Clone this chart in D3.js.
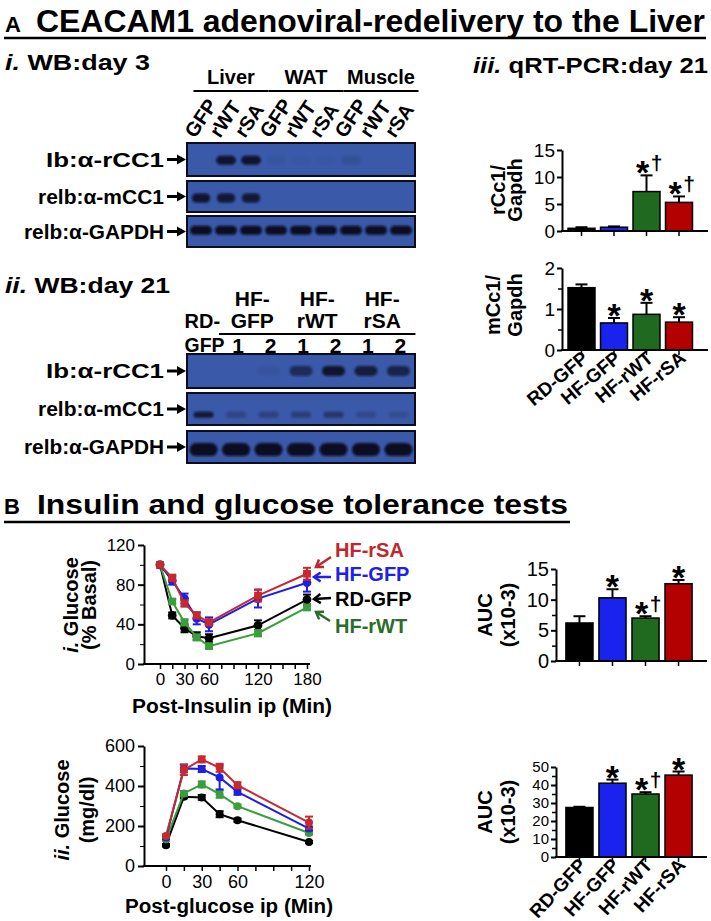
<!DOCTYPE html>
<html><head><meta charset="utf-8">
<script src="https://cdn.jsdelivr.net/npm/d3@7"></script>
<style>body{margin:0;background:#fff}svg{display:block}</style>
</head><body><svg id="c" width="711" height="921"></svg>
<script>
// ---------------- DATA ----------------
const groups = ["RD-GFP","HF-GFP","HF-rWT","HF-rSA"];
const rcc1Mean = [0.5, 0.7, 7.3, 5.3];
const rcc1Err  = [0.2, 0.15, 3.0, 1.1];
const rcc1Sig  = ["", "", "*†", "*†"];
const mcc1Mean = [1.52, 0.66, 0.87, 0.68];
const mcc1Err  = [0.08, 0.12, 0.28, 0.12];
const mcc1Sig  = ["", "*", "*", "*"];
const ittAucMean = [6.2, 10.3, 7.0, 12.6];
const ittAucErr  = [1.1, 1.4, 0.3, 0.6];
const ittAucSig  = ["", "*", "*†", "*"];
const gttAucMean = [27.5, 41, 35, 45.5];
const gttAucErr  = [0.4, 2, 1, 2];
const gttAucSig  = ["", "*", "*†", "*"];

const ittTimes = [0, 15, 30, 45, 60, 120, 180];
const ittRD    = [100, 49, 36, 28, 26, 39, 65];
const ittRDErr = [0, 3, 4, 4, 4, 5, 5];
const ittGFP   = [100, 84, 66, 46, 40, 66, 82];
const ittGFPErr= [0, 4, 5, 6, 7, 9, 9];
const ittRWT   = [100, 63, 42, 27, 18, 31, 57];
const ittRWTErr= [0, 2, 3, 2, 2, 3, 2];
const ittRSA   = [100, 87, 61, 49, 42, 69, 91];
const ittRSAErr= [0, 3, 3, 3, 3, 6, 6];

const gttTimes = [0, 15, 30, 45, 60, 120];
const gttRD    = [104, 346, 343, 259, 229, 120];
const gttRDErr = [6, 8, 12, 15, 8, 5];
const gttGFP   = [142, 488, 485, 443, 371, 187];
const gttGFPErr= [8, 20, 15, 60, 15, 10];
const gttRWT   = [134, 363, 408, 359, 299, 165];
const gttRWTErr= [8, 12, 15, 18, 8, 8];
const gttRSA   = [150, 480, 533, 491, 404, 217];
const gttRSAErr= [8, 25, 15, 20, 15, 30];

const blotRows   = ["Ib:α-rCC1", "relb:α-mCC1", "relb:α-GAPDH"];
const day3Lanes  = ["GFP","rWT","rSA","GFP","rWT","rSA","GFP","rWT","rSA"];
const day3Tissues= ["Liver","WAT","Muscle"];
const day3rCC1   = [0, 0.9, 0.9, 0.05, 0.03, 0.03, 0.1, 0, 0];
const day3mCC1   = [0.9, 0.85, 0.85, 0, 0, 0, 0, 0, 0];
const day3GAPDH  = [1, 1, 1, 1, 1, 1, 1, 1, 1];
const day21Groups= [{n:"RD-GFP",lanes:[0]},{n:"HF-GFP",lanes:[1,2]},{n:"HF-rWT",lanes:[3,4]},{n:"HF-rSA",lanes:[5,6]}];
const day21Lanes = ["", "1", "2", "1", "2", "1", "2"];
const day21rCC1  = [0, 0, 0.05, 0.6, 0.9, 0.8, 0.7];
const day21mCC1  = [0.85, 0.25, 0.3, 0.35, 0.45, 0.2, 0.15];
const day21GAPDH = [1, 1, 1, 1, 1, 1, 1];

// ---------------- STYLE ----------------
const F = "'Liberation Sans', Arial, Helvetica, sans-serif";
const barColors  = ["#000000", "#1a22ee", "#1f6a1f", "#b30000"];
const lineColors = {rd:"#000000", gfp:"#1e1ee6", rwt:"#3a9e3a", rsa:"#c62a2e"};
const svg = d3.select("#c");
svg.append("rect").attr("width",711).attr("height",921).attr("fill","#fff");
const defs = svg.append("defs");
defs.append("filter").attr("id","blur").attr("x","-30%").attr("y","-60%").attr("width","160%").attr("height","220%")
  .append("feGaussianBlur").attr("stdDeviation",1.1);

function txt(g, x, y, s, o = {}) {
  const t = g.append("text").attr("x", x).attr("y", y)
    .attr("font-family", F).attr("font-size", o.size || 18)
    .attr("font-weight", o.weight || "bold")
    .attr("text-anchor", o.anchor || "start")
    .attr("fill", o.fill || "#000");
  if (o.width) t.attr("textLength", o.width).attr("lengthAdjust", "spacingAndGlyphs");
  if (o.rotate != null) t.attr("transform", `rotate(${o.rotate},${x},${y})`);
  if (o.parts) o.parts.forEach(p => t.append("tspan").attr("font-style", p.i ? "italic" : "normal").text(p.t));
  else t.text(s);
  return t;
}
function hline(g, x1, x2, y, w = 2, c = "#000") {
  g.append("line").attr("x1", x1).attr("x2", x2).attr("y1", y).attr("y2", y).attr("stroke", c).attr("stroke-width", w);
}

// ---------------- TITLES ----------------
txt(svg, 5, 32, "A", {size: 22});
txt(svg, 36, 32, "CEACAM1 adenoviral-redelivery to the Liver", {size: 31, width: 669});
hline(svg, 4, 706, 38, 2.5);
txt(svg, 4, 514, "B", {size: 22});
txt(svg, 37, 514, "Insulin and glucose tolerance tests", {size: 28, width: 531});
hline(svg, 4, 570, 522, 2.5);

txt(svg, 5, 70, null, {size: 22, width: 145, parts: [{t:"i.", i:true}, {t:" WB:day 3"}]});
txt(svg, 5, 293, null, {size: 22, width: 165, parts: [{t:"ii.", i:true}, {t:" WB:day 21"}]});
txt(svg, 473, 73, null, {size: 22, width: 235, parts: [{t:"iii.", i:true}, {t:" qRT-PCR:day 21"}]});

// ---------------- WESTERN BLOTS ----------------
const rowWidths = [118, 126, 140];
function rowLabel(g, ri, yc) {
  txt(g, 164, yc + 7, blotRows[ri], {size: 21, anchor: "end", width: rowWidths[ri]});
  g.append("line").attr("x1", 167).attr("x2", 179).attr("y1", yc).attr("y2", yc).attr("stroke", "#000").attr("stroke-width", 3);
  g.append("path").attr("d", `M177,${yc-5}L186,${yc}L177,${yc+5}Z`).attr("fill", "#000");
}
function blot(g, lanes, rows) {
  rows.forEach((r, ri) => {
    g.append("rect").attr("x", 187).attr("y", r.y0).attr("width", 228).attr("height", r.y1 - r.y0)
      .attr("fill", "#3a59a8").attr("stroke", "#0c0c1e").attr("stroke-width", 2);
    rowLabel(g, ri, (r.y0 + r.y1) / 2);
    const bw = lanes.bandwidth() * r.wf;
    g.selectAll(null).data(r.vals).join("rect")
      .attr("x", (d, i) => lanes(i) + (lanes.bandwidth() - bw) / 2)
      .attr("y", r.y0 + (r.y1 - r.y0) * r.yf - r.h / 2)
      .attr("width", bw).attr("height", r.h).attr("rx", r.h / 2)
      .attr("fill", "#0a0a22").attr("opacity", d => d).attr("filter", "url(#blur)");
  });
}
// day 3
const g3 = svg.append("g");
const lanes3 = d3.scaleBand().domain(d3.range(day3Lanes.length)).range([189, 413]).paddingInner(0.08).paddingOuter(0.02);
day3Tissues.forEach((t, k) => {
  const a = lanes3(k * 3), b = lanes3(k * 3 + 2) + lanes3.bandwidth();
  hline(g3, a + 4, b + 6, 91, 2);
  txt(g3, (a + b) / 2 + 5, 84, t, {size: 20, anchor: "middle"});
});
day3Lanes.forEach((s, i) => {
  const cx = lanes3(i) + lanes3.bandwidth() / 2;
  txt(g3, cx - 6, 139, s, {size: 20, rotate: -56});
});
blot(g3, lanes3, [
  {y0: 143, y1: 176, vals: day3rCC1, h: 9, wf: 0.85, yf: 0.52},
  {y0: 181, y1: 212, vals: day3mCC1, h: 9, wf: 0.8, yf: 0.55},
  {y0: 216, y1: 247, vals: day3GAPDH, h: 9, wf: 0.95, yf: 0.46}
]);
// day 21
const g21 = svg.append("g");
const lanes21 = d3.scaleBand().domain(d3.range(day21Lanes.length)).range([187, 415]).paddingInner(0.06).paddingOuter(0.04);
const lc = i => lanes21(i) + lanes21.bandwidth() / 2;
day21Groups.forEach((gr, k) => {
  const [p, q] = gr.n.split("-");
  if (gr.lanes.length === 1) {
    txt(g21, lc(gr.lanes[0]) - 19, 328, p + "-", {size: 20});
    txt(g21, lc(gr.lanes[0]) - 19, 352, q, {size: 20, width: 40});
  } else {
    const c = (lc(gr.lanes[0]) + lc(gr.lanes[1])) / 2;
    txt(g21, c, 306, p + "-", {size: 21, anchor: "middle"});
    txt(g21, c, 328, q, {size: 21, anchor: "middle"});
    hline(g21, lc(gr.lanes[0]) - 17, lc(gr.lanes[1]) + 17, 334, 2);
  }
});
day21Lanes.forEach((s, i) => { if (s) txt(g21, lc(i) + 2, 353, s, {size: 21, anchor: "middle"}); });
blot(g21, lanes21, [
  {y0: 354, y1: 388, vals: day21rCC1, h: 10, wf: 0.75, yf: 0.5},
  {y0: 393, y1: 425, vals: day21mCC1, h: 6, wf: 0.65, yf: 0.68},
  {y0: 431, y1: 463, vals: day21GAPDH, h: 13, wf: 0.92, yf: 0.58}
]);

// ---------------- BAR CHARTS ----------------
function barChart(o) {
  const g = svg.append("g");
  const x = d3.scaleBand().domain(groups).range(o.xr).paddingInner(o.pi).paddingOuter(o.po);
  const y = d3.scaleLinear().domain(o.yd).range(o.yr);
  const bw = x.bandwidth();
  // error bars + significance marks
  o.means.forEach((m, i) => {
    const cx = x(groups[i]) + bw / 2, top = y(m + o.errs[i]);
    g.append("line").attr("x1", cx).attr("x2", cx).attr("y1", y(m)).attr("y2", top).attr("stroke", "#000").attr("stroke-width", 2);
    hline(g, cx - 6, cx + 6, top, 2);
    const s = o.sig[i];
    if (s) {
      txt(g, cx + (s.length > 1 ? -4 : 0), top + 9, "*", {size: 34, anchor: "middle"});
      if (s.length > 1) txt(g, cx + 10, top - 5, "†", {size: 21, anchor: "middle"});
    }
  });
  g.selectAll("rect.bar").data(o.means).join("rect").attr("class", "bar")
    .attr("x", (d, i) => x(groups[i])).attr("y", d => y(d))
    .attr("width", bw).attr("height", d => y(o.yd[0]) - y(d))
    .attr("fill", (d, i) => barColors[i]).attr("stroke", "#000").attr("stroke-width", 1.5);
  // y axis
  const ya = g.append("g").attr("transform", `translate(${o.ax},0)`)
    .call(d3.axisLeft(y).tickValues(o.major).tickSize(5).tickSizeOuter(0).tickPadding(2).tickFormat(d3.format("d")));
  ya.select(".domain").attr("stroke-width", 2);
  ya.selectAll(".tick line").attr("stroke-width", 2);
  ya.selectAll("text").attr("font-family", F).attr("font-size", o.fs).attr("fill", "#000");
  if (o.minor) {
    const ym = g.append("g").attr("transform", `translate(${o.ax},0)`)
      .call(d3.axisLeft(y).tickValues(o.minor).tickSize(4).tickFormat(""));
    ym.select(".domain").remove();
    ym.selectAll(".tick line").attr("stroke-width", 1.5);
  }
  // x axis
  const xa = g.append("g").attr("transform", `translate(0,${y(o.yd[0])})`)
    .call(d3.axisBottom(x).tickSize(5).tickFormat(""));
  xa.select(".domain").remove();
  xa.selectAll(".tick line").attr("stroke-width", 1.5);
  hline(g, o.ax - 1, o.xEnd, y(o.yd[0]), 2);
  // labels
  o.ylab.forEach((l, k) => txt(g, o.ylx[k], o.yly, l, {size: 20, anchor: "middle", rotate: -90}));
  if (o.xlab) groups.forEach((s, i) => {
    const px = x(s) + bw / 2 + o.xlab.dx, py = o.xlab.y;
    txt(g, px, py, s, {size: 19, anchor: "end", rotate: o.xlab.rot});
  });
}
barChart({xr: [562, 698.5], pi: 0.17, po: 0.185, yd: [0, 15], yr: [231, 150], means: rcc1Mean, errs: rcc1Err, sig: rcc1Sig,
  major: [0, 5, 10, 15], minor: null, ax: 562, xEnd: 708, fs: 19, ylab: ["rCc1/", "Gapdh"], ylx: [505, 522], yly: 190});
barChart({xr: [562, 698.5], pi: 0.17, po: 0.185, yd: [0, 2], yr: [350, 268], means: mcc1Mean, errs: mcc1Err, sig: mcc1Sig,
  major: [0, 1, 2], minor: [0.5, 1.5], ax: 562, xEnd: 708, fs: 19, ylab: ["mCc1/", "Gapdh"], ylx: [500, 522], yly: 305,
  xlab: {dx: 8, y: 360, rot: -40}});
barChart({xr: [556, 702], pi: 0.18, po: 0.3, yd: [0, 15], yr: [661, 569], means: ittAucMean, errs: ittAucErr, sig: ittAucSig,
  major: [0, 5, 10, 15], minor: [2.5, 7.5, 12.5], ax: 556, xEnd: 707, fs: 20, ylab: ["AUC", "(x10-3)"], ylx: [492, 515], yly: 615});
barChart({xr: [556, 702], pi: 0.18, po: 0.3, yd: [0, 50], yr: [857, 767], means: gttAucMean, errs: gttAucErr, sig: gttAucSig,
  major: [0, 10, 20, 30, 40, 50], minor: [5, 15, 25, 35, 45], ax: 556, xEnd: 707, fs: 15, ylab: ["AUC", "(x10-3)"], ylx: [492, 515], yly: 812,
  xlab: {dx: 8, y: 866, rot: -47}});

// ---------------- LINE CHARTS ----------------
function lineChart(o) {
  const g = svg.append("g");
  const x = d3.scaleLinear().domain(o.xd).range(o.xr);
  const y = d3.scaleLinear().domain(o.yd).range(o.yr);
  const ya = g.append("g").attr("transform", `translate(${o.ax},0)`)
    .call(d3.axisLeft(y).tickValues(o.ymajor).tickSize(6).tickSizeOuter(0).tickPadding(3));
  ya.select(".domain").attr("stroke-width", 2);
  ya.selectAll(".tick line").attr("stroke-width", 2);
  ya.selectAll("text").attr("font-family", F).attr("font-size", o.fs).attr("fill", "#000");
  const ym = g.append("g").attr("transform", `translate(${o.ax},0)`)
    .call(d3.axisLeft(y).tickValues(o.yminor).tickSize(4).tickFormat(""));
  ym.select(".domain").remove();
  const xa = g.append("g").attr("transform", `translate(0,${o.yr[0]})`)
    .call(d3.axisBottom(x).tickValues(o.xticks).tickSize(5).tickPadding(4)
      .tickFormat(d => o.xlabels.includes(d) ? d : ""));
  xa.select(".domain").remove();
  xa.selectAll(".tick line").attr("stroke-width", 1.5);
  xa.selectAll("text").attr("font-family", F).attr("font-size", o.fs).attr("fill", "#000");
  hline(g, o.ax - 1, o.xEnd, o.yr[0], 2);
  o.series.forEach(s => {
    const c = s.color;
    const line = d3.line().x((d, i) => x(o.times[i])).y(d => y(d));
    g.append("path").attr("d", line(s.v)).attr("fill", "none").attr("stroke", c).attr("stroke-width", 2);
    s.v.forEach((v, i) => {
      const e = s.e[i];
      if (e > 0) {
        const cx = x(o.times[i]);
        g.append("line").attr("x1", cx).attr("x2", cx).attr("y1", y(v - e)).attr("y2", y(v + e)).attr("stroke", c).attr("stroke-width", 2);
        hline(g, cx - 4, cx + 4, y(v + e), 2, c);
        hline(g, cx - 4, cx + 4, y(v - e), 2, c);
      }
    });
    g.selectAll(null).data(s.v).join("path")
      .attr("transform", (d, i) => `translate(${x(o.times[i])},${y(d)})`)
      .attr("d", d3.symbol().type(s.sym).size(o.msize)).attr("fill", c);
  });
  txt(g, o.xl.x, o.xl.y, o.xl.t, {size: 20, anchor: "middle", width: o.xl.w});
  o.ylab.forEach((l, k) => txt(g, o.ylx[k], o.yly, null, {size: 20, anchor: "middle", rotate: -90, parts: l}));
  return {x, y, g};
}
lineChart({xd: [0, 180], xr: [160, 307], yd: [0, 120], yr: [664, 545], ax: 144, xEnd: 310, fs: 17,
  ymajor: [0, 40, 80, 120], yminor: [20, 60, 100], xticks: d3.range(0, 181, 15), xlabels: [0, 30, 60, 120, 180],
  times: ittTimes, msize: 60,
  series: [
    {v: ittRD, e: ittRDErr, color: lineColors.rd, sym: d3.symbolCircle},
    {v: ittRWT, e: ittRWTErr, color: lineColors.rwt, sym: d3.symbolSquare},
    {v: ittGFP, e: ittGFPErr, color: lineColors.gfp, sym: d3.symbolCircle},
    {v: ittRSA, e: ittRSAErr, color: lineColors.rsa, sym: d3.symbolSquare}],
  xl: {x: 232, y: 713, t: "Post-Insulin ip (Min)", w: 200},
  ylab: [[{t:"i.", i:true}, {t:" Glucose"}], [{t:"(% Basal)"}]], ylx: [78, 96], yly: 605});
lineChart({xd: [0, 120], xr: [166, 309], yd: [0, 600], yr: [866, 746], ax: 144, xEnd: 311, fs: 18,
  ymajor: [0, 200, 400, 600], yminor: [100, 300, 500], xticks: d3.range(0, 121, 15), xlabels: [0, 30, 60, 120],
  times: gttTimes, msize: 50,
  series: [
    {v: gttRD, e: gttRDErr, color: lineColors.rd, sym: d3.symbolCircle},
    {v: gttRWT, e: gttRWTErr, color: lineColors.rwt, sym: d3.symbolCircle},
    {v: gttGFP, e: gttGFPErr, color: lineColors.gfp, sym: d3.symbolCircle},
    {v: gttRSA, e: gttRSAErr, color: lineColors.rsa, sym: d3.symbolCircle}],
  xl: {x: 229, y: 913, t: "Post-glucose ip (Min)", w: 208},
  ylab: [[{t:"ii.", i:true}, {t:" Glucose"}], [{t:"(mg/dl)"}]], ylx: [69, 94], yly: 810});

// ITT legend with arrows
const legend = [
  {t: "HF-rSA", c: "#c0272d", ty: 557, a: [331, 557, 316, 567]},
  {t: "HF-GFP", c: "#2020e8", ty: 581, a: [331, 577, 314, 577]},
  {t: "RD-GFP", c: "#000000", ty: 606, a: [331, 598, 314, 599]},
  {t: "HF-rWT", c: "#2a6e2a", ty: 633, a: [330, 621, 316, 612]}];
legend.forEach(l => {
  txt(svg, 335, l.ty, l.t, {size: 20, fill: l.c});
  const [x1, y1, x2, y2] = l.a;
  const ang = Math.atan2(y2 - y1, x2 - x1);
  svg.append("line").attr("x1", x1).attr("y1", y1).attr("x2", x2).attr("y2", y2).attr("stroke", l.c).attr("stroke-width", 2.5);
  const hx = (a) => x2 - 8 * Math.cos(ang + a), hy = (a) => y2 - 8 * Math.sin(ang + a);
  svg.append("path").attr("d", `M${hx(0.6)},${hy(0.6)}L${x2},${y2}L${hx(-0.6)},${hy(-0.6)}`)
    .attr("fill", "none").attr("stroke", l.c).attr("stroke-width", 2.5);
});
</script></body></html>
